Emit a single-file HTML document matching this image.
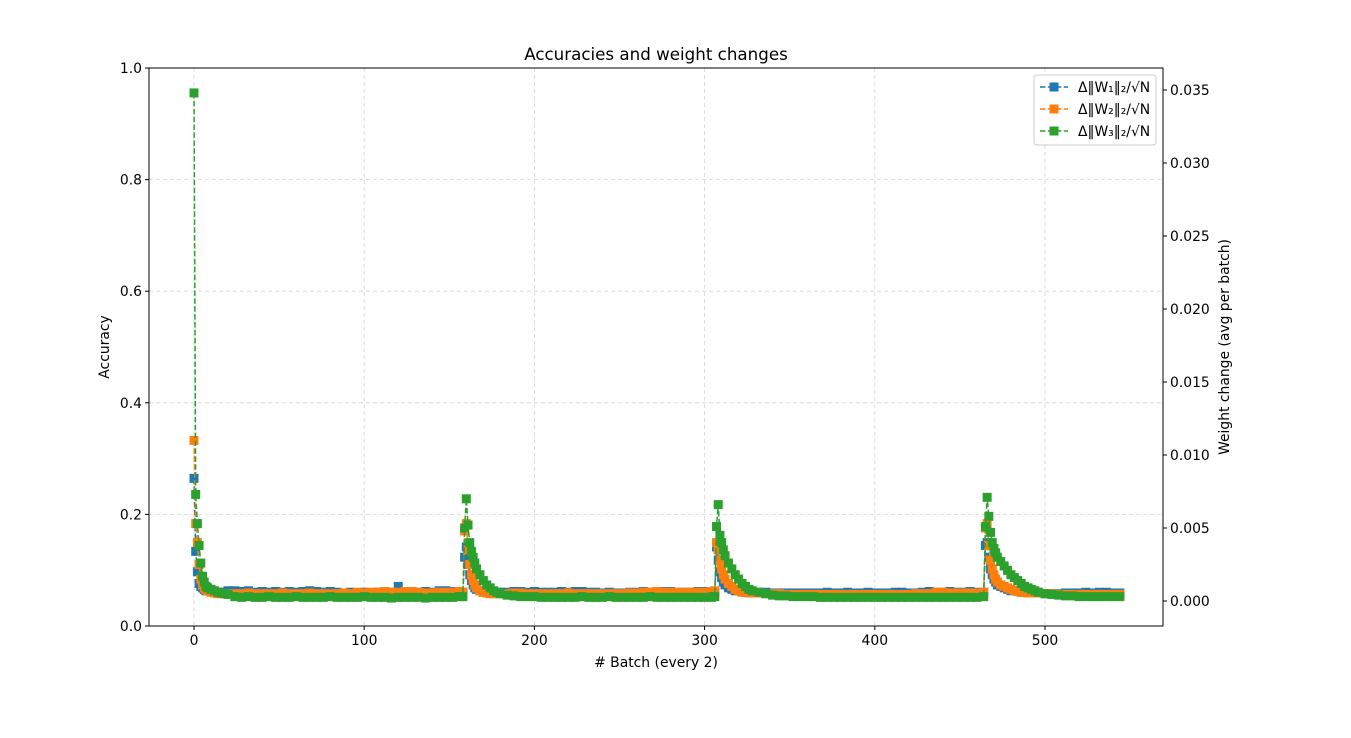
<!DOCTYPE html>
<html><head><meta charset="utf-8"><style>
body{margin:0;background:#fff;font-family:"Liberation Sans","DejaVu Sans",sans-serif;}
svg text{font-family:"DejaVu Sans","Liberation Sans",sans-serif;}
</style></head><body>
<svg id="chart" width="1351" height="733" xmlns="http://www.w3.org/2000/svg"></svg>
<script>
const xs=[0,1,2,3,4,5,6,7,8,10,12,14,16,18,20,
24,28,32,36,40,44,48,52,56,60,64,68,72,76,80,84,88,92,96,100,104,108,112,116,120,124,128,132,136,140,144,148,152,156,
158,159,160,161,162,163,164,165,166,168,170,172,174,176,178,180,
184,188,192,196,200,204,208,212,216,220,224,228,232,236,240,244,248,252,256,260,264,268,272,276,280,284,288,292,296,300,304,
305,306,307,308,309,310,311,312,314,316,318,320,322,324,326,328,
332,336,340,344,348,352,356,360,364,368,372,376,380,384,388,392,396,400,404,408,412,416,420,424,428,432,436,440,444,448,452,456,460,
464,465,466,467,468,469,470,471,472,474,476,478,480,482,484,486,488,490,492,494,496,
500,504,508,512,516,520,524,528,532,536,540,544];
const w1=[84,34,20,12,10,9,8,7,7,6.5,6,6,6,6,7,
7,6.5,7,6,6.5,6,6.5,6,6.5,6,6.5,7,6.5,6,6.5,6,5.5,6,5.5,6,5.5,6,6,6,10,6,6,6,6.5,6,7,7,6.5,6,
6,30,37,25,18,14,11,9,8,7,6,6,6,6,6,6,
6,6.5,6.5,6,6.5,6,6,6,6.5,6,6.5,6.5,6,6,5.5,6,5.5,5.5,6,6,6.5,6,6,6.5,6.5,6,6,6,6.5,6.5,6,
6,6,37,28,20,16,13,11,9,8,7,7,6.5,6,6,6,
6,6,5.5,5.5,5.5,5.5,5.5,5.5,5.5,5.5,6,5.5,5.5,6,5.5,5.5,6,5.5,5.5,5.5,6,6,5.5,5.5,6,6.5,6,6,6.5,6,6,6.5,6,
6,38,40,30,22,18,15,13,11,10,9,8,7,7,6.5,6,6,6,6,6,6,
5,5,5,5.5,5.5,5.5,6,5.5,6,6,5.5,5.5];
const w2=[110,53,40,25,15,11,9,8,7,6,5.5,5,5,5,5,
5,5,5.5,5,5,5,5,5.5,5,5,5,5.5,5,5,5,5,5.5,5,6,5.5,6,6,6.5,6,6,6.5,6.5,6,5.5,5.5,6,6,6,6.5,
6,48,53,35,25,18,14,11,9,7,6,5.5,5,5,5,5,
5,5.5,5.5,5,5,5,5,5,5,5.5,5,5,5,5,5,5,5,5,5.5,5.5,6,6,6.5,6,6,6,6,6,6,6,6.5,
6,7,40,35,28,22,18,15,12,10,8,7,6,6,5.5,5.5,
5.5,5,5,5,4.5,4.5,4.5,4.5,4.5,4.5,4.5,4.5,4.5,4.5,4.5,4.5,4.5,4.5,4.5,4.5,4.5,4.5,4.5,5,5,5,6,6,5.5,5.5,5.5,5.5,5.5,
6,50,53,38,28,22,18,15,13,11,10,9,8,7,6.5,6,6,5.5,5.5,5.5,5.5,
5,5,4.5,4.5,4.5,4.5,4.5,4.5,4.5,4.5,4.5,4.5];
const w3=[348,73,53,38,26,17,13,10,9,8,7,6,5.5,5,4.5,
3,2.5,3,2.5,2.5,3,2.5,2.5,2.5,3,2.5,2.5,2.5,2.5,3,2.5,2.5,2.5,2.5,3,2.5,2.5,2.5,2,2.5,2.5,2.5,2.5,2,2.5,2.5,2.5,2.5,3,
3,50,70,52,40,34,30,26,22,18,14,11,9,7,6,5,
4,3.5,3,3,3,2.5,2.5,2.5,2.5,2.5,2.5,3,2.5,2.5,2.5,3,2.5,2.5,2.5,2.5,2.5,3,2.5,2.5,2.5,2.5,2.5,2.5,2.5,2.5,2.5,
3,3,51,66,45,40,35,31,26,22,18,15,12,10,8,7,
6,5,4,3.5,3.5,3,3,3,3,2.5,2.5,2.5,2.5,2.5,2.5,2.5,2.5,2.5,2.5,2.5,2.5,2.5,2.5,2.5,2.5,2.5,2.5,2.5,2.5,2.5,2.5,2.5,2.5,
3,51,71,58,47,40,36,33,30,27,24,21,18,16,14,12,10,9,8,7,6,
5,4.5,4,3.5,3.5,3,3,3,3,3,3,3];
const xTicks=[0,100,200,300,400,500];
const accTicks=[0.0,0.2,0.4,0.6,0.8,1.0];
const rTicks=[0.000,0.005,0.010,0.015,0.020,0.025,0.030,0.035];
const seriesNames=["Δ‖W₁‖₂/√N","Δ‖W₂‖₂/√N","Δ‖W₃‖₂/√N"];
const colors=["#1f77b4","#ff7f0e","#2ca02c"];

const L=149,R=1163,T=68,B=626;
const X=v=>194+(v)*(1045-194)/500;
const YA=v=>B-(v)*(B-T);
const YR=v=>601-v*(601-90)/0.035;
const FS=13.9;
const svg=document.getElementById('chart');
const NS="http://www.w3.org/2000/svg";
function mk(tag,attrs,parent){const e=document.createElementNS(NS,tag);for(const k in attrs)e.setAttribute(k,attrs[k]);(parent||svg).appendChild(e);return e;}
function txt(s,attrs,parent){const e=mk('text',attrs,parent);e.textContent=s;return e;}

const grid=mk('g',{});


xTicks.forEach(t=>{mk('line',{x1:X(t),x2:X(t),y1:T,y2:B,stroke:'#d6d6d6','stroke-dasharray':'4,3','stroke-width':0.8},grid);});
accTicks.forEach(t=>{mk('line',{x1:L,x2:R,y1:YA(t),y2:YA(t),stroke:'#d6d6d6','stroke-dasharray':'4,3','stroke-width':0.8},grid);});

const clip=mk('clipPath',{id:'pc'});mk('rect',{x:L,y:T,width:R-L,height:B-T},clip);
const data=[w1,w2,w3];
data.forEach((arr,si)=>{
  const g=mk('g',{'clip-path':'url(#pc)'});
  
  
  const pts=arr.map((v,i)=>X(xs[i])+','+YR(v*1e-4)).join(' ');
  const pl=mk('polyline',{points:pts,fill:'none',stroke:colors[si],'stroke-width':1.5,'stroke-dasharray':'5.5,2.4'},g);
  
  
  arr.forEach((v,i)=>{
    const r=mk('rect',{x:X(xs[i])-4.5,y:YR(v*1e-4)-4.5,width:9,height:9,fill:colors[si]},g);
    
    
  });
});

const ax=mk('g',{});


mk('rect',{x:L,y:T,width:R-L,height:B-T,fill:'none',stroke:'#000','stroke-width':1},ax);
xTicks.forEach(t=>{mk('line',{x1:X(t),x2:X(t),y1:B,y2:B+4,stroke:'#000'},ax);
  const e=txt(String(t),{x:X(t),y:B+19,'font-size':FS,'text-anchor':'middle'},ax);
  
  });
accTicks.forEach(t=>{mk('line',{x1:L-4,x2:L,y1:YA(t),y2:YA(t),stroke:'#000'},ax);
  const e=txt(t.toFixed(1),{x:L-7,y:YA(t)+5,'font-size':FS,'text-anchor':'end'},ax);
  
  });
rTicks.forEach(t=>{mk('line',{x1:R,x2:R+4,y1:YR(t),y2:YR(t),stroke:'#000'},ax);
  const e=txt(t.toFixed(3),{x:R+7,y:YR(t)+5,'font-size':FS},ax);
  
  });
let e;
e=txt('Accuracies and weight changes',{x:656,y:60,'font-size':16.7,'text-anchor':'middle'});

e=txt('# Batch (every 2)',{x:656,y:667,'font-size':FS,'text-anchor':'middle'});

e=txt('Accuracy',{x:0,y:0,'font-size':FS,'text-anchor':'middle',transform:'translate(109,347) rotate(-90)'});

e=txt('Weight change (avg per batch)',{x:0,y:0,'font-size':FS,'text-anchor':'middle',transform:'translate(1229,347) rotate(-90)'});


const lg=mk('g',{});


mk('rect',{x:1034,y:75,width:122,height:70,rx:3,fill:'#fff',stroke:'#ccc','fill-opacity':0.85},lg);
seriesNames.forEach((n,i)=>{
  const y=87+i*22;
  const it=mk('g',{},lg);
  
  
  mk('line',{x1:1040,x2:1068,y1:y,y2:y,stroke:colors[i],'stroke-width':1.5,'stroke-dasharray':'5.5,2.4'},it);
  mk('rect',{x:1049.5,y:y-4.5,width:9,height:9,fill:colors[i]},it);
  txt(n,{x:1078,y:y+5,'font-size':FS},it);
});
</script>
</body></html>
